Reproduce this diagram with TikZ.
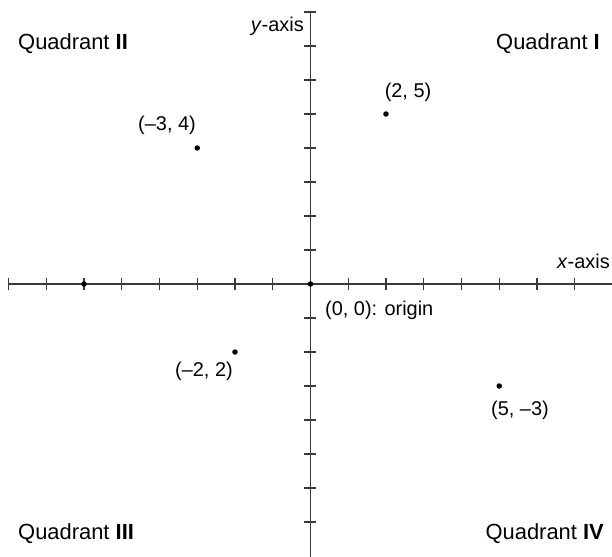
\documentclass[tikz,border=0pt]{standalone}
\usepackage{fontspec}
\setmainfont{Liberation Sans}
\usepackage{tikz}
\usetikzlibrary{positioning}
\definecolor{axisgray}{HTML}{3A3A3A}

\begin{document}
\begin{tikzpicture}[x=37.75bp, y=34bp,
    axisline/.style={axisgray, line width=1.3bp},
    tickmark/.style={axisgray, line width=1.1bp},
    dot/.style={circle, fill=black, inner sep=0pt, minimum size=5.5bp},
    coordlabel/.style={font=\fontsize{20}{24}\selectfont, inner sep=0pt},
    quadlabel/.style={font=\fontsize{22}{26}\selectfont, inner sep=0pt}]
    \useasboundingbox (-8.225,-8.029) rectangle (7.987,8.353);

    % Axes
    \coordinate (xleft) at (-8,0);
    \coordinate (xright) at (8,0);
    \coordinate (ybottom) at (0,-8.1);
    \coordinate (ytop) at (0,8);
    \draw[axisline] (xleft) -- (xright);
    \draw[axisline] (ybottom) -- (ytop);

    % Tick marks
    \foreach \k in {-8,...,-1,1,2,...,8} {
        \draw[tickmark] (\k,0) ++(0,-6bp) -- ++(0,12bp);
    }
    \foreach \k in {-7,...,-1,1,2,...,8} {
        \draw[tickmark] (0,\k) ++(-6bp,0) -- ++(12bp,0);
    }

    % Axis labels
    \node[coordlabel, anchor=base east] (xlabel) at (7.934, 0.47) {\textit{x}-axis};
    \node[coordlabel, anchor=base east] (ylabel) at (-0.172, 7.44) {\textit{y}-axis};

    % Points
    \node[dot] (origin) at (0,0) {};
    \node[dot] (pa) at (2,5) {};
    \node[dot] (pb) at (-3,4) {};
    \node[dot] (pc) at (-2,-2) {};
    \node[dot] (pd) at (5,-3) {};
    \node[dot] (pe) at (-6,0) {};

    % Point labels
    \node[coordlabel, anchor=base] (la) at (2.583, 5.5) {(2, 5)};
    \node[coordlabel, anchor=base] (lb) at (-3.801, 4.529) {(--3, 4)};
    \node[coordlabel, anchor=base] (lc) at (-2.821, -2.735) {(--2, 2)};
    \node[coordlabel, anchor=base] (ld) at (5.550, -3.853) {(5, --3)};
    \node[coordlabel, anchor=base west] (lorigin) at (0.384, -0.941) {(0, 0): origin};

    % Quadrants
    \node[quadlabel, anchor=base east] (q1) at (7.669, 6.91) {Quadrant \textbf{I}};
    \node[quadlabel, anchor=base west] (q2) at (-7.748, 6.91) {Quadrant \textbf{II}};
    \node[quadlabel, anchor=base west] (q3) at (-7.748, -7.5) {Quadrant \textbf{III}};
    \node[quadlabel, anchor=base east] (q4) at (7.775, -7.5) {Quadrant \textbf{IV}};
\end{tikzpicture}
\end{document}
